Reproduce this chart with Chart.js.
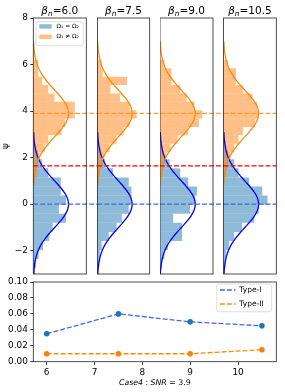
<!DOCTYPE html>
<html lang="en">
<head>
  <meta charset="utf-8">
  <title>Case4 SNR 3.9 - histograms and error rates</title>
  <script src="https://cdn.jsdelivr.net/npm/chart.js@4.4.1/dist/chart.umd.min.js"></script>
  <style>
    * { margin: 0; padding: 0; }
    body { background: #fff; }
    #wrap { position: relative; width: 285px; height: 392px; overflow: hidden; }
    canvas { position: absolute; }
  </style>
</head>
<body>
  <div id="wrap">
    <canvas id="p0"></canvas>
    <canvas id="p1"></canvas>
    <canvas id="p2"></canvas>
    <canvas id="p3"></canvas>
    <canvas id="err"></canvas>
  </div>

  <script>
    // ---- data ----
    const betas = [6.0, 7.5, 9.0, 10.5];
    const yTicks = [-2, 0, 2, 4, 6, 8];
    const yMin = -3, yMax = 8;
    const meanSame = 0;
    const meanDiff = 3.9;
    const threshold = 1.645;

    // histogram bins: lower edge of first bin and bin height
    const sameStart = -3.14, sameWidth = 0.39;
    const diffStart = 0.8, diffWidth = 0.36;

    // densities, Omega1 = Omega2 (bottom bin first)
    const sameB60 = [0.02, 0.03, 0.06, 0.11, 0.18, 0.22, 0.37, 0.29, 0.37, 0.31, 0.31, 0.17, 0.10, 0.05, 0.02, 0.01];
    const sameB75 = [0.01, 0.02, 0.03, 0.05, 0.13, 0.22, 0.28, 0.36, 0.39, 0.39, 0.36, 0.18, 0.09, 0.04, 0.02, 0.01];
    const sameB90 = [0.01, 0.02, 0.05, 0.09, 0.25, 0.25, 0.15, 0.34, 0.40, 0.42, 0.32, 0.23, 0.11, 0.04, 0.02, 0.01];
    const sameB105 = [0.01, 0.02, 0.03, 0.06, 0.12, 0.21, 0.35, 0.40, 0.50, 0.44, 0.29, 0.17, 0.12, 0.05, 0.02, 0.01];

    // densities, Omega1 != Omega2 (bottom bin first)
    const diffB60 = [0.02, 0.04, 0.04, 0.07, 0.13, 0.17, 0.32, 0.36, 0.47, 0.47, 0.24, 0.17, 0.10, 0.055, 0.055];
    const diffB75 = [0.02, 0.03, 0.06, 0.08, 0.14, 0.22, 0.30, 0.37, 0.45, 0.37, 0.26, 0.15, 0.34, 0.06, 0.05];
    const diffB90 = [0.01, 0.03, 0.05, 0.07, 0.12, 0.20, 0.32, 0.44, 0.48, 0.39, 0.30, 0.23, 0.13, 0.13, 0.05];
    const diffB105 = [0.01, 0.03, 0.05, 0.08, 0.12, 0.17, 0.22, 0.36, 0.40, 0.38, 0.33, 0.22, 0.14, 0.14, 0.05];

    // fitted density curve (offset from the mean, density)
    const curveOffset = [-3.0, -2.75, -2.5, -2.25, -2.0, -1.75, -1.5, -1.25, -1.0, -0.75, -0.5, -0.25, 0,
                         0.25, 0.5, 0.75, 1.0, 1.25, 1.5, 1.75, 2.0, 2.25, 2.5, 2.75, 3.1];
    const curveDensity = [0.004, 0.009, 0.018, 0.032, 0.054, 0.086, 0.130, 0.183, 0.242, 0.301, 0.352, 0.387, 0.399,
                          0.387, 0.352, 0.301, 0.242, 0.183, 0.130, 0.086, 0.054, 0.032, 0.018, 0.009, 0.003];

    // bottom panel
    const errX = [6, 7.5, 9, 10.5];
    const typeI = [0.035, 0.06, 0.05, 0.045];
    const typeII = [0.01, 0.01, 0.01, 0.015];
    const errXTicks = [6, 7, 8, 9, 10];
    const errYTicks = [0, 0.02, 0.04, 0.06, 0.08, 0.10];

    const sameHists = [sameB60, sameB75, sameB90, sameB105];
    const diffHists = [diffB60, diffB75, diffB90, diffB105];

    // ---- layout ----
    const panelLeft = [33.3, 96.7, 160.0, 223.3];
    const panelW = 53;
    const topH = 276;
    const padTop = 18, padBottom = 2;
    const pxPerUnit = (topH - padTop - padBottom) / (yMax - yMin);

    Chart.defaults.font.family = '"DejaVu Sans", sans-serif';
    Chart.defaults.font.size = 8.9;
    Chart.defaults.color = '#000';

    const blueFill = 'rgba(31,119,180,0.5)';
    const orangeFill = 'rgba(255,127,14,0.5)';
    const dash = [4.9, 2.1];

    function toBins(vals, start, w) {
      return vals.map((v, i) => ({ x: v, y: start + (i + 0.5) * w }));
    }

    function curve(mean) {
      return curveOffset.map((o, i) => ({ x: curveDensity[i], y: mean + o }));
    }

    function minusFmt(v) {
      return v < 0 ? '\u2212' + Math.abs(v) : String(v);
    }

    // no extra room for the end labels
    function noEndPad(s) {
      s.paddingTop = 0; s.paddingBottom = 0; s.paddingLeft = 0; s.paddingRight = 0;
    }

    const panelDeco = {
      id: 'panelDeco',
      afterDatasetsDraw(chart, args, opts) {
        const { ctx, chartArea: a, scales: { y } } = chart;
        ctx.save();
        // reference lines
        ctx.lineWidth = 1.3;
        ctx.setLineDash(dash);
        [[meanSame, '#4169e1'], [meanDiff, '#ff9a30'], [threshold, '#ff0000']].forEach(([v, c]) => {
          const py = y.getPixelForValue(v);
          ctx.strokeStyle = c;
          ctx.beginPath();
          ctx.moveTo(a.left, py);
          ctx.lineTo(opts.lineEnd, py);
          ctx.stroke();
        });
        ctx.setLineDash([]);
        // frame
        ctx.strokeStyle = '#222';
        ctx.lineWidth = 0.8;
        ctx.strokeRect(a.left, a.top, a.right - a.left, a.bottom - a.top);

        // title  beta_n = ..
        const f1 = 'italic 10.5px "DejaVu Sans"';
        const f2 = 'italic 7.4px "DejaVu Sans"';
        const f3 = '10.5px "DejaVu Sans"';
        const rest = '=' + betas[opts.idx].toFixed(1);
        ctx.font = f1; const w1 = ctx.measureText('β').width;
        ctx.font = f2; const w2 = ctx.measureText('n').width;
        ctx.font = f3; const w3 = ctx.measureText(rest).width;
        let x = (a.left + a.right) / 2 - (w1 + w2 + w3) / 2;
        const base = 13.5;
        ctx.fillStyle = '#000';
        ctx.textAlign = 'left';
        ctx.textBaseline = 'alphabetic';
        ctx.font = f1; ctx.fillText('β', x, base); x += w1;
        ctx.font = f2; ctx.fillText('n', x, base + 2.4); x += w2;
        ctx.font = f3; ctx.fillText(rest, x, base);

        // legend (first panel only)
        if (opts.idx === 0) {
          ctx.beginPath();
          ctx.roundRect(36, 21.7, 47.3, 24, 2);
          ctx.fillStyle = 'rgba(255,255,255,0.8)';
          ctx.fill();
          ctx.strokeStyle = '#d0d0d0';
          ctx.lineWidth = 0.7;
          ctx.stroke();
          const rows = [[blueFill, 'Ω\u2081 = Ω\u2082', 26.4], [orangeFill, 'Ω\u2081 \u2260 Ω\u2082', 36.8]];
          ctx.font = '5.9px "DejaVu Sans"';
          ctx.textBaseline = 'middle';
          rows.forEach(([c, t, cy]) => {
            ctx.fillStyle = c;
            ctx.fillRect(39.3, cy - 2.2, 12.4, 4.4);
            ctx.fillStyle = '#000';
            ctx.fillText(t, 56.5, cy);
          });
        }
        ctx.restore();
      }
    };

    function makePanel(i) {
      const cv = document.getElementById('p' + i);
      const left = i === 0 ? 0 : Math.floor(panelLeft[i]);
      const right = i < 3 ? Math.floor(panelLeft[i + 1]) + 1 : 285;
      cv.width = right - left;
      cv.height = topH;
      cv.style.left = left + 'px';
      cv.style.top = '0px';
      const inner = panelLeft[i] - left;

      const histBar = { indexAxis: 'y', borderWidth: 0, grouped: false, inflateAmount: 0 };

      new Chart(cv, {
        type: 'bar',
        data: {
          datasets: [
            Object.assign({
              data: toBins(sameHists[i], sameStart, sameWidth), yAxisID: 'y',
              backgroundColor: blueFill, barThickness: sameWidth * pxPerUnit, order: 4
            }, histBar),
            Object.assign({
              data: toBins(diffHists[i], diffStart, diffWidth), yAxisID: 'y2',
              backgroundColor: orangeFill, barThickness: diffWidth * pxPerUnit, order: 3
            }, histBar),
            {
              type: 'line', data: curve(meanSame), yAxisID: 'y', indexAxis: 'y',
              borderColor: '#0000ff', borderWidth: 1.3, pointRadius: 0, tension: 0.4, fill: false, order: 2
            },
            {
              type: 'line', data: curve(meanDiff), yAxisID: 'y', indexAxis: 'y',
              borderColor: '#ff8c00', borderWidth: 1.3, pointRadius: 0, tension: 0.4, fill: false, order: 1
            }
          ]
        },
        options: {
          indexAxis: 'y',
          responsive: false,
          animation: false,
          events: [],
          layout: {
            padding: { left: i === 0 ? 0 : inner, right: cv.width - inner - panelW, top: padTop, bottom: padBottom }
          },
          scales: {
            x: { type: 'linear', min: 0, max: 0.6, display: false, offset: false },
            y: {
              type: 'linear', min: yMin, max: yMax, display: i === 0, offset: false,
              afterFit: s => { s.width = inner; noEndPad(s); },
              afterBuildTicks: s => { s.ticks = yTicks.map(v => ({ value: v })); },
              ticks: { padding: 2.5, callback: v => minusFmt(v) },
              grid: { offset: false, drawOnChartArea: false, tickLength: 3, color: '#000', lineWidth: 0.8 },
              border: { display: false },
              title: { display: true, text: 'ψ', font: { size: 8.9 }, padding: { top: 0, bottom: 2 } }
            },
            y2: {
              type: 'linear', min: yMin, max: yMax, display: false, offset: false,
              grid: { offset: false }
            }
          },
          plugins: {
            legend: { display: false },
            tooltip: { enabled: false },
            panelDeco: { idx: i, lineEnd: i < 3 ? cv.width : panelLeft[i] - left + panelW }
          }
        },
        plugins: [panelDeco]
      });
    }

    for (let i = 0; i < 4; i++) makePanel(i);

    // ---- bottom: error rates ----
    const errDeco = {
      id: 'errDeco',
      afterDraw(chart) {
        const { ctx, chartArea: a } = chart;
        ctx.save();
        ctx.strokeStyle = '#222';
        ctx.lineWidth = 0.8;
        ctx.strokeRect(a.left, a.top, a.right - a.left, a.bottom - a.top);

        // legend
        const top = 284 - 276;
        ctx.beginPath();
        ctx.roundRect(216.7, top, 55, 27.7, 2);
        ctx.fillStyle = 'rgba(255,255,255,0.8)';
        ctx.fill();
        ctx.strokeStyle = '#d0d0d0';
        ctx.lineWidth = 0.7;
        ctx.stroke();
        ctx.font = '7.5px "DejaVu Sans"';
        ctx.textBaseline = 'middle';
        ctx.textAlign = 'left';
        chart.data.datasets.forEach((ds, k) => {
          const cy = top + 6 + k * 14;
          ctx.strokeStyle = ds.borderColor;
          ctx.lineWidth = 1.3;
          ctx.setLineDash(dash);
          ctx.beginPath();
          ctx.moveTo(220, cy);
          ctx.lineTo(235.5, cy);
          ctx.stroke();
          ctx.setLineDash([]);
          ctx.fillStyle = '#000';
          ctx.fillText(ds.label, 239.3, cy);
        });

        // x label: Case4 : SNR = 3.9
        const parts = [['Case4', true], [' : ', false], ['SNR', true], [' = 3.9', false]];
        const size = 7.8;
        let total = 0;
        parts.forEach(([t, it]) => {
          ctx.font = (it ? 'italic ' : '') + size + 'px "DejaVu Sans"';
          total += ctx.measureText(t).width;
        });
        let x = (a.left + a.right) / 2 - total / 2;
        ctx.textBaseline = 'alphabetic';
        ctx.fillStyle = '#000';
        parts.forEach(([t, it]) => {
          ctx.font = (it ? 'italic ' : '') + size + 'px "DejaVu Sans"';
          ctx.fillText(t, x, 385 - 276);
          x += ctx.measureText(t).width;
        });
        ctx.restore();
      }
    };

    const cvE = document.getElementById('err');
    cvE.width = 285;
    cvE.height = 392 - 276;
    cvE.style.left = '0px';
    cvE.style.top = '276px';

    new Chart(cvE, {
      type: 'line',
      data: {
        datasets: [
          {
            label: 'Type-I', data: errX.map((x, i) => ({ x, y: typeI[i] })),
            borderColor: '#4169e1', borderDash: dash, borderWidth: 1.3,
            pointRadius: 2.8, pointBackgroundColor: '#1f77b4', pointBorderColor: '#1f77b4', pointBorderWidth: 0
          },
          {
            label: 'Type-II', data: errX.map((x, i) => ({ x, y: typeII[i] })),
            borderColor: '#ff8c00', borderDash: dash, borderWidth: 1.3,
            pointRadius: 2.8, pointBackgroundColor: '#ff7f0e', pointBorderColor: '#ff7f0e', pointBorderWidth: 0
          }
        ]
      },
      options: {
        responsive: false,
        animation: false,
        events: [],
        layout: { padding: { left: 0, right: 285 - 276.3, top: 6, bottom: 0 } },
        scales: {
          x: {
            type: 'linear', min: 5.72, max: 10.8,
            afterBuildTicks: s => { s.ticks = errXTicks.map(v => ({ value: v })); },
            afterFit: s => { s.height = 392 - 361.7; noEndPad(s); },
            ticks: { padding: 2.5, callback: v => String(v) },
            grid: { drawOnChartArea: false, tickLength: 3, color: '#000', lineWidth: 0.8 },
            border: { display: false }
          },
          y: {
            type: 'linear', min: 0, max: 0.1,
            afterBuildTicks: s => { s.ticks = errYTicks.map(v => ({ value: v })); },
            afterFit: s => { s.width = 33.3; noEndPad(s); },
            ticks: { padding: 2.5, callback: v => v.toFixed(2) },
            grid: { drawOnChartArea: false, tickLength: 3, color: '#000', lineWidth: 0.8 },
            border: { display: false }
          }
        },
        plugins: { legend: { display: false }, tooltip: { enabled: false } }
      },
      plugins: [errDeco]
    });
  </script>
</body>
</html>
